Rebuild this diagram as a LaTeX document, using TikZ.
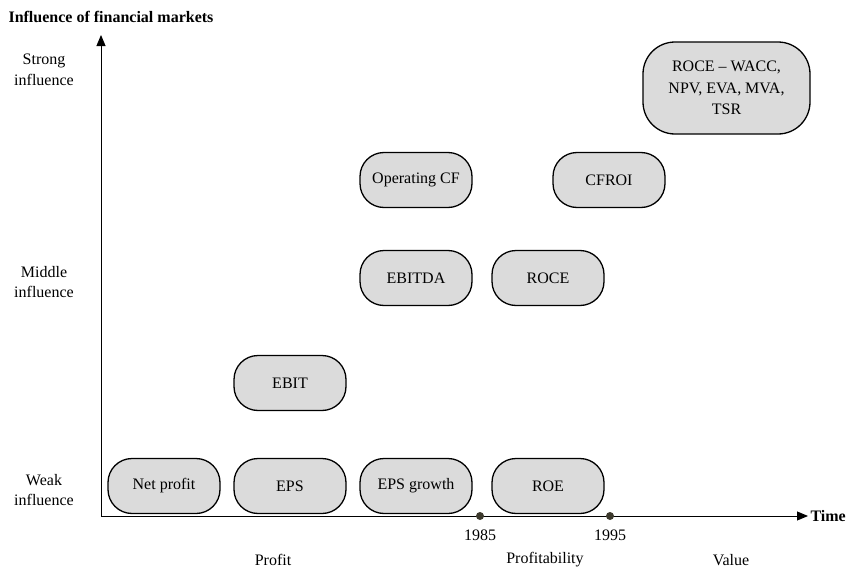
\documentclass[tikz,border=0pt]{standalone}
\usepackage{fontspec}
\setmainfont{Liberation Serif}
\usetikzlibrary{arrows.meta}
\begin{document}
\begin{tikzpicture}[x=1pt,y=-1pt,
  txt/.style={font=\fontsize{16}{20.5}\selectfont},
  measure/.style={txt, draw=black, line width=1.3pt, fill=black!14,
    rounded corners=24pt, minimum width=112pt, minimum height=55pt,
    align=center, inner sep=2pt},
  level/.style={txt, align=center},
  axis/.style={line width=0.9pt, -{Triangle[length=11pt,width=9pt]}},
  yeardot/.style={circle, fill=black!75!olive, inner sep=0pt, minimum size=8pt}]
\useasboundingbox (0,0) rectangle (847,570);

% axes
\coordinate (origin) at (101,516);
\coordinate (ytip) at (101,35);
\coordinate (xtip) at (808,516);
\draw[axis] (origin) -- (ytip);
\draw[axis] (origin) -- (xtip);

\node[txt, font=\fontsize{16}{20}\selectfont\bfseries, anchor=west] (title) at (5,17) {Influence of financial markets};
\node[txt, font=\fontsize{16}{20}\selectfont\bfseries, anchor=west] (time) at (807,516) {Time};

% influence levels
\node[level] (strong) at (44,70) {Strong\\influence};
\node[level] (middle) at (44,282) {Middle\\influence};
\node[level] (weak) at (44,490) {Weak\\influence};

% time marks
\node[yeardot] (y85) at (480,516) {};
\node[yeardot] (y95) at (610,516) {};
\node[txt] (l85) at (480,535) {1985};
\node[txt] (l95) at (610,535) {1995};
\node[txt] (eraprofit) at (273,560) {Profit};
\node[txt] (eraprofitability) at (545,560) {Profitability};
\node[txt] (eravalue) at (731,560) {Value};

% performance measures
\node[measure] (netprofit) at (164,486) {Net profit};
\node[measure] (eps) at (290,486) {EPS};
\node[measure] (epsgrowth) at (416,486) {EPS growth};
\node[measure] (roe) at (548,486) {ROE};
\node[measure] (ebit) at (290,383) {EBIT};
\node[measure] (ebitda) at (416,278) {EBITDA};
\node[measure] (roce) at (548,278) {ROCE};
\node[measure] (opcf) at (416,180) {Operating CF};
\node[measure] (cfroi) at (609,180) {CFROI};
\node[measure, font=\fontsize{16}{21.5}\selectfont, minimum width=167pt, minimum height=92pt, rounded corners=32pt] (value) at (726.5,88) {ROCE -- WACC,\\NPV, EVA, MVA,\\TSR};
\end{tikzpicture}
\end{document}
